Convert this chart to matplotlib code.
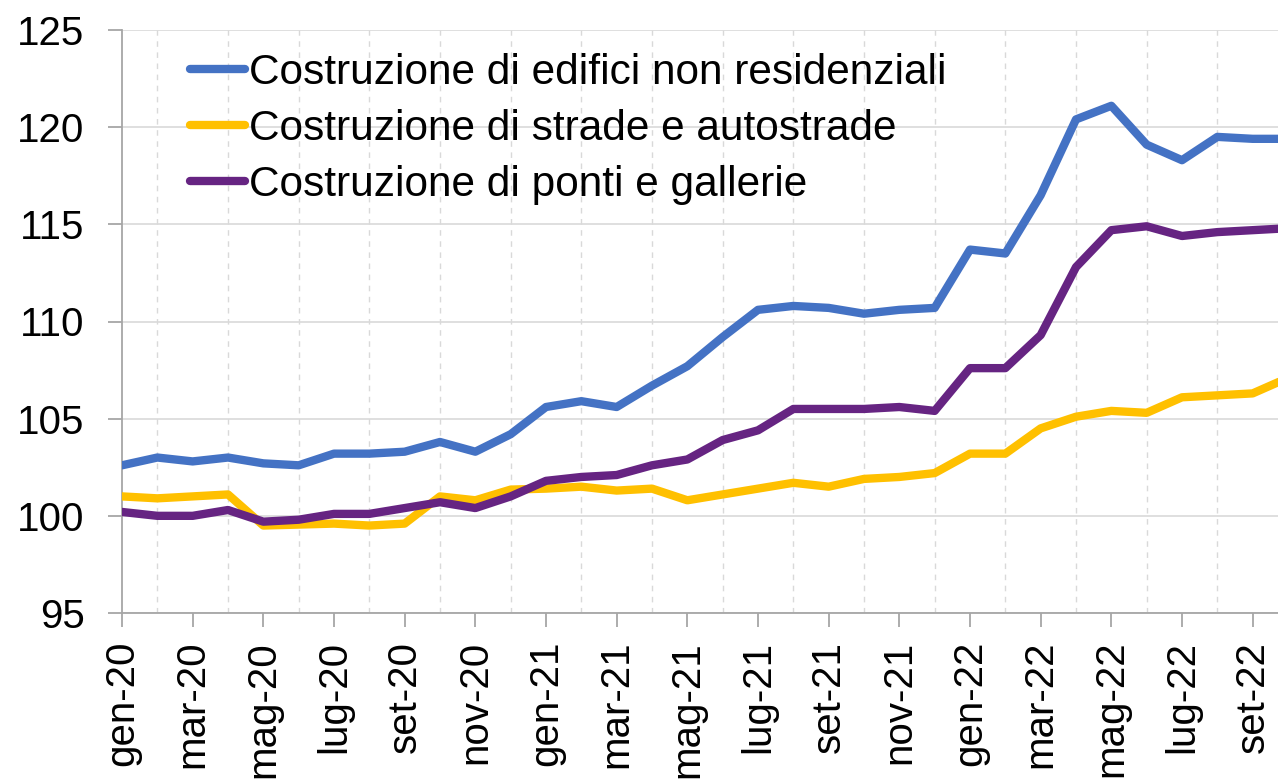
import numpy as np
from matplotlib import pyplot as plt

plt.rcParams['font.family'] = ['Liberation Sans', 'DejaVu Sans']

mesi = ['gen', 'feb', 'mar', 'apr', 'mag', 'giu', 'lug', 'ago', 'set', 'ott', 'nov', 'dic']
labels = [m + '-' + a for a in ['20', '21', '22'] for m in mesi][:34]

edifici = [102.6, 103.0, 102.8, 103.0, 102.7, 102.6, 103.2, 103.2, 103.3, 103.8, 103.3, 104.2,
           105.6, 105.9, 105.6, 106.7, 107.7, 109.2, 110.6, 110.8, 110.7, 110.4, 110.6, 110.7,
           113.7, 113.5, 116.5, 120.4, 121.1, 119.1, 118.3, 119.5, 119.4, 119.4]
strade = [101.0, 100.9, 101.0, 101.1, 99.5, 99.55, 99.6, 99.5, 99.6, 101.0, 100.8, 101.35,
          101.4, 101.5, 101.3, 101.4, 100.8, 101.1, 101.4, 101.7, 101.5, 101.9, 102.0, 102.2,
          103.2, 103.2, 104.5, 105.1, 105.4, 105.3, 106.1, 106.2, 106.3, 107.1]
ponti = [100.2, 100.0, 100.0, 100.3, 99.7, 99.8, 100.1, 100.1, 100.4, 100.7, 100.4, 101.0,
         101.8, 102.0, 102.1, 102.6, 102.9, 103.9, 104.4, 105.5, 105.5, 105.5, 105.6, 105.4,
         107.6, 107.6, 109.3, 112.8, 114.7, 114.9, 114.4, 114.6, 114.7, 114.8]
nomi = ['Costruzione di edifici non residenziali',
        'Costruzione di strade e autostrade',
        'Costruzione di ponti e gallerie']
colori = ['#4472C4', '#FFC000', '#662482']

fig = plt.figure(figsize=(12.78, 7.81), dpi=100)
ax = fig.add_axes([122/1278, 168/781, 1166/1278, 583/781])
x = np.arange(len(labels))
for serie, nome, c in zip([edifici, strade, ponti], nomi, colori):
    ax.plot(x, serie, color=c, lw=6, label=nome, solid_joinstyle='round',
            solid_capstyle='round', zorder=3)

ax.set_ylim(95, 125)
ax.set_yticks(range(95, 126, 5))
ax.set_xlim(0, 33)
ax.set_xticks(x[::2])
ax.set_xticklabels(labels[::2], rotation=90)
ax.set_xticks(x, minor=True)
ax.grid(axis='y', color='#D9D9D9', lw=1.2, zorder=0)
ax.grid(axis='x', which='minor', color='#D9D9D9', lw=1, ls=(0, (4, 4)), zorder=0)
ax.tick_params(axis='both', labelsize=29, color='#A6A6A6', width=1.3, length=10)
ax.tick_params(axis='x', which='minor', length=0)
ax.tick_params(axis='x', pad=10)
ax.tick_params(axis='y', pad=17)
for s in ['top', 'right']:
    ax.spines[s].set_visible(False)
for s in ['left', 'bottom']:
    ax.spines[s].set_color('#A6A6A6')
    ax.spines[s].set_linewidth(1.3)

ax.legend(loc='upper left', bbox_to_anchor=(0.033, 1.012), frameon=False, fontsize=30.5,
          handlelength=1.3, handletextpad=0.1, labelspacing=0.38, borderaxespad=0.3)

fig.savefig('out.png', dpi=100)
